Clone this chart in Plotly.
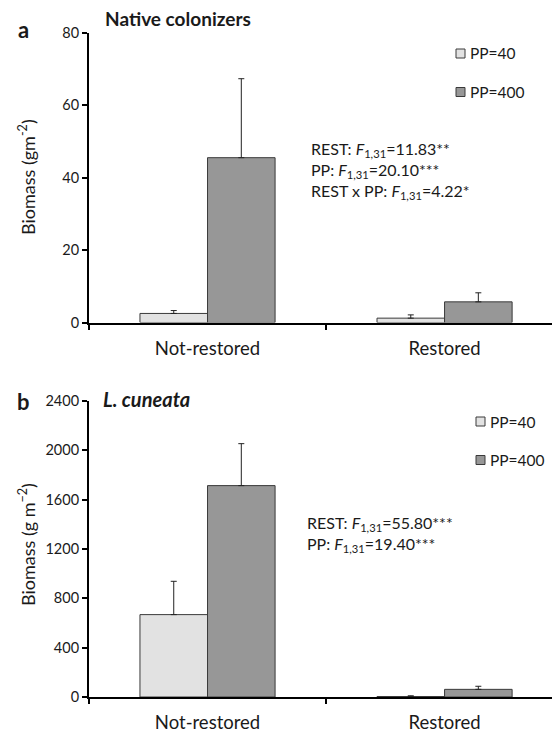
import plotly.graph_objects as go

categories = ["Not-restored", "Restored"]
series_names = ["PP=40", "PP=400"]

# Panel a: Native colonizers (g m-2)
a_pp40 = [2.5, 1.2]
a_pp40_err = [0.8, 0.9]
a_pp400 = [45.5, 5.7]
a_pp400_err = [21.8, 2.5]

# Panel b: L. cuneata (g m-2)
b_pp40 = [668, 4]
b_pp40_err = [270, 6]
b_pp400 = [1714, 62]
b_pp400_err = [340, 25]

a_ticks = [0, 20, 40, 60, 80]
b_ticks = [0, 400, 800, 1200, 1600, 2000, 2400]

a_stats = ["REST: <i>F</i><sub>1,31</sub>=11.83**",
           "PP: <i>F</i><sub>1,31</sub>=20.10***",
           "REST x PP: <i>F</i><sub>1,31</sub>=4.22*"]
b_stats = ["REST: <i>F</i><sub>1,31</sub>=55.80***",
           "PP: <i>F</i><sub>1,31</sub>=19.40***"]

FONT = "Lato"
LIGHT = "#e2e2e2"
DARK = "#979797"
EDGE = "#3a3a3a"
TXT = "#1a1a1a"

# the page body adds an 8px margin around the figure
OFF = 8
W, H = 560 - OFF, 735 - OFF
AXIS_X = 89
L = AXIS_X - OFF


def px_x(px):
    return (px - AXIS_X) / (W - L)


def px_y(py):
    return 1 - (py - OFF) / H


fig = go.Figure()


def add_bars(y, err, name, color, xa, ya):
    fig.add_trace(go.Bar(
        x=categories, y=y, name=name, xaxis=xa, yaxis=ya,
        marker=dict(color=color, line=dict(color=EDGE, width=1)),
        error_y=dict(type="data", array=err, arrayminus=[0] * len(err),
                     symmetric=False, color="#222", thickness=1, width=3),
        showlegend=False,
    ))


add_bars(a_pp40, a_pp40_err, series_names[0], LIGHT, "x", "y")
add_bars(a_pp400, a_pp400_err, series_names[1], DARK, "x", "y")
add_bars(b_pp40, b_pp40_err, series_names[0], LIGHT, "x2", "y2")
add_bars(b_pp400, b_pp400_err, series_names[1], DARK, "x2", "y2")

xaxis_common = dict(
    type="category", range=[-0.5, 1.487], showline=True, linecolor="black",
    linewidth=2, ticks="outside", tickson="boundaries", ticklen=5,
    tickwidth=2, tickcolor="black", showgrid=False, zeroline=False,
    tickfont=dict(family=FONT, size=18.5, color=TXT), ticklabelstandoff=8,
)
yaxis_common = dict(
    showline=True, linecolor="black", linewidth=2, ticks="outside",
    ticklen=5, tickwidth=2, tickcolor="black", showgrid=False,
    zeroline=False, tickfont=dict(family=FONT, size=14.5, color=TXT),
)

fig.update_layout(
    width=W, height=H,
    margin=dict(l=L, r=0, t=0, b=0, autoexpand=False),
    paper_bgcolor="white", plot_bgcolor="white",
    barmode="group", bargap=0.43, bargroupgap=0,
    font=dict(family=FONT, color=TXT),
    showlegend=False,
    xaxis=dict(xaxis_common, domain=[0, 1], anchor="y"),
    yaxis=dict(yaxis_common, domain=[px_y(322.5), px_y(32.7)],
               range=[0, 80], tickvals=a_ticks, anchor="x"),
    xaxis2=dict(xaxis_common, domain=[0, 1], anchor="y2"),
    yaxis2=dict(yaxis_common, domain=[px_y(697), px_y(401)],
                range=[0, 2400], tickvals=b_ticks, anchor="x2"),
)

ann = []
shapes = []


def text(s, px, py, size, xanchor="left", angle=0):
    ann.append(dict(text=s, x=px_x(px), y=px_y(py), xref="paper", yref="paper",
                    xanchor=xanchor, yanchor="middle", textangle=angle,
                    align="left", showarrow=False,
                    font=dict(family=FONT, size=size, color=TXT)))


def key(px, py, color, label):
    shapes.append(dict(type="rect", xref="paper", yref="paper",
                       x0=px_x(px), x1=px_x(px + 9),
                       y0=px_y(py + 4.5), y1=px_y(py - 4.5),
                       fillcolor=color, line=dict(color=EDGE, width=1)))
    text(label, px + 12, py, 15.5)


key(456, 53.5, LIGHT, series_names[0])
key(456, 92, DARK, series_names[1])
key(476, 421.5, LIGHT, series_names[0])
key(476, 460, DARK, series_names[1])

text("<b>a</b>", 23, 29, 22, xanchor="center")
text("<b>b</b>", 23, 401, 22, xanchor="center")
text("<b>Native colonizers</b>", 103, 18, 19)
text("<b><i>L. cuneata</i></b>", 101, 399, 20)
text("Biomass (gm<sup>-2</sup>)", 27, 177, 18, xanchor="center", angle=-90)
text("Biomass (g m<sup>−2</sup>)", 27, 545, 18, xanchor="center", angle=-90)
text("<br>".join(a_stats), 309, 170, 16)
text("<br>".join(b_stats), 305, 534, 16)

fig.update_layout(annotations=ann, shapes=shapes)

fig.write_html("out.html")
